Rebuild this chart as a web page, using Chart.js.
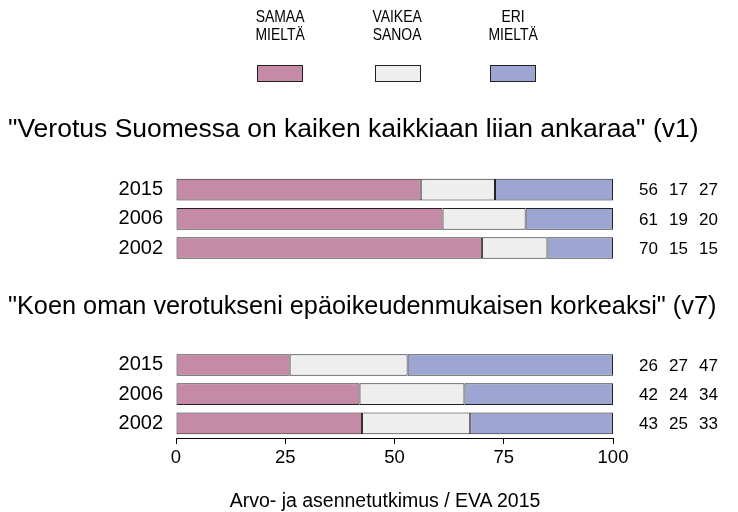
<!DOCTYPE html>
<html>
<head>
<meta charset="utf-8">
<script src="https://cdn.jsdelivr.net/npm/chart.js@4"></script>
<style>
  body { margin: 0; background: #fff; font-family: "Liberation Sans", Arial, sans-serif; color: #000; }
  #wrap { position: relative; width: 738px; height: 512px; }
  #chart { position: absolute; left: 0; top: 0; }
  .txt { position: absolute; white-space: nowrap; }
  .leg { position: absolute; text-align: center; font-size: 17px; line-height: 18px; width: 100px; }
  .leg span { display: inline-block; transform: scaleX(0.82); }
  .box { position: absolute; width: 44px; height: 15px; border: 1px solid #222; }
</style>
</head>
<body>
<div id="wrap">
  <canvas id="chart" width="738" height="512"></canvas>

  <div class="leg" style="left:230px; top:8px;"><span>SAMAA<br>MIELTÄ</span></div>
  <div class="leg" style="left:347px; top:8px;"><span>VAIKEA<br>SANOA</span></div>
  <div class="leg" style="left:463px; top:8px;"><span>ERI<br>MIELTÄ</span></div>
  <div class="box" style="left:257px; top:65px; background:#C48AA6;"></div>
  <div class="box" style="left:375px; top:65px; background:#EEEEEE;"></div>
  <div class="box" style="left:490px; top:65px; background:#9DA6D3;"></div>

  <div class="txt" style="left:8px; top:113px; font-size:26.5px;">"Verotus Suomessa on kaiken kaikkiaan liian ankaraa" (v1)</div>
  <div class="txt" style="left:8px; top:291px; font-size:25.3px;">"Koen oman verotukseni epäoikeudenmukaisen korkeaksi" (v7)</div>
  <div class="txt" style="left:0; width:770px; text-align:center; top:489px; font-size:19.5px;">Arvo- ja asennetutkimus / EVA 2015</div>
</div>

<script>
// vuodet
const years = ['2015', '2006', '2002'];

// v1: Verotus Suomessa on kaiken kaikkiaan liian ankaraa
const v1Agree = [56, 61, 70];
const v1Hard = [17, 19, 15];
const v1Disagree = [27, 20, 15];

// v7: Koen oman verotukseni epäoikeudenmukaisen korkeaksi
const v7Agree = [26, 42, 43];
const v7Hard = [27, 24, 25];
const v7Disagree = [47, 34, 33];

const xTicks = [0, 25, 50, 75, 100];

// 3 riviä + 3 tyhjää väliä + 3 riviä
const gap = ['', '', ''];
const rows = years.concat(gap, years);
const nulls = [null, null, null];

function pct(arr, i, a, b, c) {
  const tot = a[i] + b[i] + c[i];
  return arr[i] / tot * 100;
}
function series(k) {
  const g1 = [v1Agree, v1Hard, v1Disagree];
  const g2 = [v7Agree, v7Hard, v7Disagree];
  const s1 = years.map((y, i) => pct(g1[k], i, ...g1));
  const s2 = years.map((y, i) => pct(g2[k], i, ...g2));
  return s1.concat(nulls, s2);
}
const raw = [
  v1Agree.concat(nulls, v7Agree),
  v1Hard.concat(nulls, v7Hard),
  v1Disagree.concat(nulls, v7Disagree)
];

// numerot oikealle puolelle
const numbersPlugin = {
  id: 'numbers',
  afterDatasetsDraw(chart) {
    const ctx = chart.ctx;
    const y = chart.scales.y;
    const cols = [658, 688, 718];
    ctx.save();
    ctx.font = '17px "Liberation Sans", Arial';
    ctx.fillStyle = '#000';
    ctx.textAlign = 'right';
    ctx.textBaseline = 'middle';
    rows.forEach((r, i) => {
      if (r === '') return;
      const py = y.getPixelForValue(i);
      raw.forEach((arr, k) => ctx.fillText(String(arr[i]), cols[k], py + 1));
    });
    ctx.restore();
  }
};

const ctx = document.getElementById('chart');

new Chart(ctx, {
  type: 'bar',
  data: {
    labels: rows,
    datasets: [{
      label: 'SAMAA MIELTÄ',
      data: series(0),
      backgroundColor: '#C48AA6'
    }, {
      label: 'VAIKEA SANOA',
      data: series(1),
      backgroundColor: '#EEEEEE'
    }, {
      label: 'ERI MIELTÄ',
      data: series(2),
      backgroundColor: '#9DA6D3'
    }]
  },
  options: {
    indexAxis: 'y',
    responsive: false,
    animation: false,
    layout: { padding: { left: 0, right: 125, top: 175, bottom: 44 } },
    datasets: {
      bar: {
        categoryPercentage: 1,
        barPercentage: 0.74,
        borderWidth: 1,
        borderColor: '#222',
        borderSkipped: false
      }
    },
    plugins: {
      legend: { display: false },
      tooltip: { enabled: false }
    },
    scales: {
      x: {
        stacked: true,
        min: 0,
        max: 100,
        afterBuildTicks: s => { s.ticks = xTicks.map(v => ({ value: v })); },
        afterFit: s => { s.height = 30; },
        grid: { drawOnChartArea: false, drawTicks: true, tickLength: 6, color: '#000' },
        border: { display: true, color: '#000', width: 1 },
        ticks: { color: '#000', padding: 3, font: { family: '"Liberation Sans", Arial', size: 18.5 } }
      },
      y: {
        stacked: true,
        afterFit: s => { s.width = 176; },
        grid: { display: false, drawTicks: false },
        border: { display: false },
        ticks: { color: '#000', padding: 13, font: { family: '"Liberation Sans", Arial', size: 20 } }
      }
    }
  },
  plugins: [numbersPlugin]
});
</script>
</body>
</html>
